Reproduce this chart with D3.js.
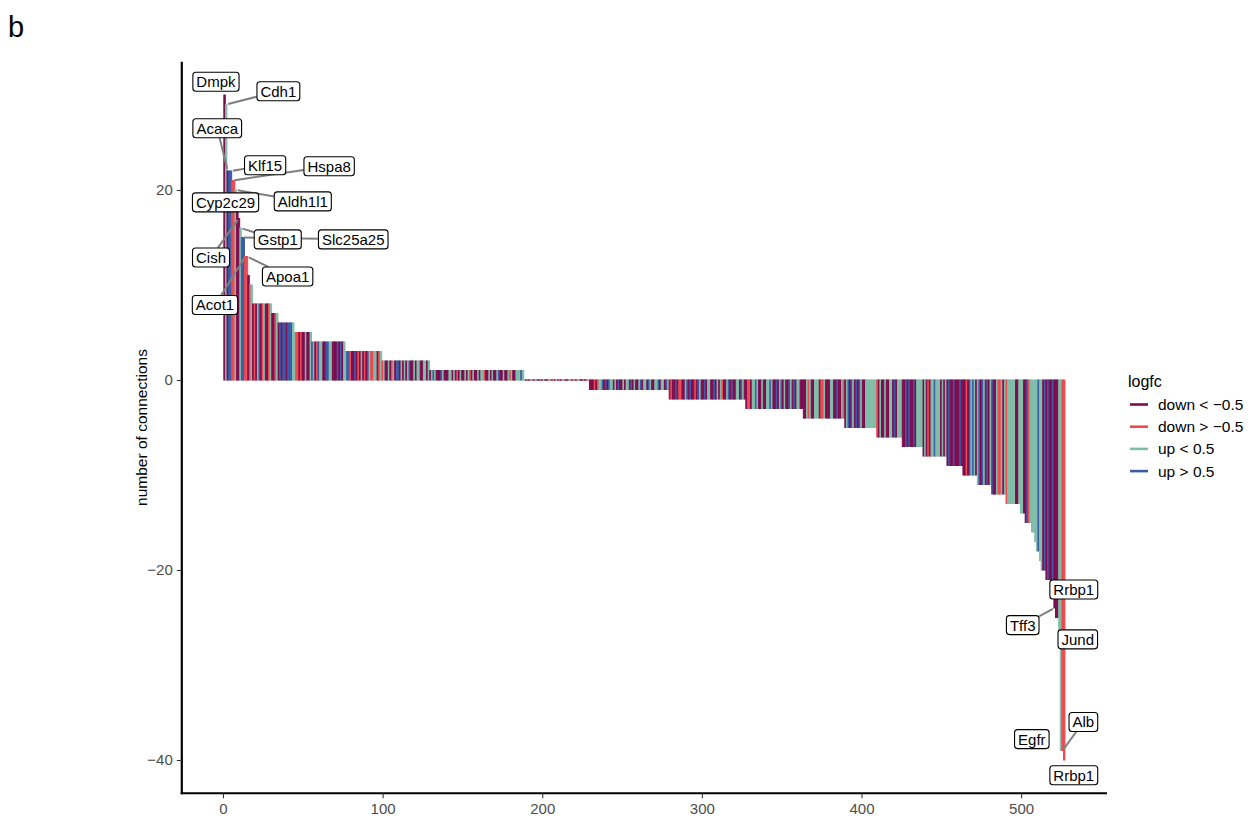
<!DOCTYPE html>
<html><head><meta charset="utf-8">
<script src="https://cdn.jsdelivr.net/npm/d3@7"></script>
<style>
body{margin:0;background:#fff}
svg{display:block}
text{font-family:"Liberation Sans",Arial,Helvetica,sans-serif}
</style>
</head><body>
<svg id="c" width="1256" height="816"></svg>
<script>
// ---- categories / legend ----
const categories = ["down < \u22120.5", "down > \u22120.5", "up < 0.5", "up > 0.5"];
const categoryCodes = ["P", "R", "T", "B"];
const categoryColors = ["#7F0C4F", "#EF4A4F", "#80BDA8", "#3B5BA8"];

// ---- bar data (sorted by number of connections) ----
// first individual bars
const headValues = [30, 29, 22, 22, 22, 21, 21, 20, 19, 17, 16, 15, 15, 13, 13, 11, 10, 10];
const headColors = "PTPBBRRTPPTBBRRPRT";
// runs of equal values: value and the colour code of each bar in the run
const levelValues = [8, 7, 6, 5, 4, 3, 2, 1, 0, -1, -2, -3, -4, -5, -6, -7, -8, -9, -10, -11, -12, -13, -14, -15, -16, -17, -18, -19, -20, -21];
const levelColors = [
  "PRPTBPRTPPRT",
  "PPRT",
  "PBPBBPBBBT",
  "TRRPRPPTPPT",
  "BTPRBTTPPBBTTPPPBPBPT",
  "TBBRPPBPRPTPRPBTRRTTPRT",
  "RTPPTPRTPBBPTPTPTBPPTPTTPPTTPT",
  "PTBTPPPBTPPPTTPTPRPTPPTPTRPTPPTPTTRPPTPTPPTBPPTPPTRTPPTTTBT",
  "TPRPTRPTBPRPTPPRTPRPTPRPTRPPTRPTPRTPPRPRT",
  "PPPRPRTTBPBPBTTPTPBPPTPTTPBPTPPTBPTTPBTPPTTBPTTPBT",
  "PRPPBPRRPPTBPBPPRPBTPPBPTTPPBPTPTRPPTBPBPPTTPBTP",
  "PRRPTTBTPPTPPTTBTPPBPTBPTPPBTPBPTTPP",
  "PPTRTPPTTTPRRTPPPTTPPBPPTR",
  "PTBPBTPBPBTPPTTTTTTT",
  "RPTPPTPPTTPBPTTT",
  "PPBPBPPBPTTTT",
  "PTPRPTTBTTTPTPT",
  "PBPPBPPPBP",
  "PPRPBTBTP",
  "TBPBTPBPT",
  "BPPTRRTPT",
  "RTTTTTPPT",
  "TTP",
  "PBRT",
  "TT",
  "T",
  "TB",
  "T",
  "TPB",
  "PBP"
];
// last individual bars
const tailValues = [-22, -23, -24, -25, -25, -27, -39, -39, -40];
const tailColors = "PBPPPTTRR";

// ---- labelled genes ----
const labelGenes = ["Dmpk", "Cdh1", "Acaca", "Klf15", "Hspa8", "Cyp2c29", "Aldh1l1", "Cish", "Gstp1", "Slc25a25", "Apoa1", "Acot1", "Rrbp1", "Tff3", "Jund", "Alb", "Egfr", "Rrbp1"];
const labelRanks = [1, 2, 3, 5, 6, 9, 8, 10, 11, 12, 15, 14, 519, 521, 524, 526, 525, 527];
// repelled label centres (data units) and whether a segment is drawn
const labelX = [-4.4, 34.7, -3.6, 26.4, 66.5, 1.6, 50, -7.5, 34.3, 81.6, 40.5, -5, 533, 501, 535.5, 539, 506.7, 533];
const labelY = [31.4, 30.4, 26.5, 22.6, 22.5, 18.7, 18.8, 12.9, 14.8, 14.8, 10.9, 7.9, -22.05, -25.8, -27.3, -36, -37.8, -41.6];
const labelSegment = [0, 1, 1, 1, 1, 0, 1, 1, 1, 1, 1, 1, 0, 1, 0, 1, 0, 0];

const xTicks = [0, 100, 200, 300, 400, 500];
const yTicks = [-40, -20, 0, 20];

// ---- build bars ----
const bars = [];
let rk = 1;
headValues.forEach((v, i) => bars.push({rank: rk++, value: v, code: headColors[i]}));
levelValues.forEach((v, i) => { for (const c of levelColors[i]) bars.push({rank: rk++, value: v, code: c}); });
tailValues.forEach((v, i) => bars.push({rank: rk++, value: v, code: tailColors[i]}));

const svg = d3.select("#c");
const x = d3.scaleLinear().domain([-25.8, 553.8]).range([181.8, 1107]);
const y = d3.scaleLinear().domain([-43.5, 33.5]).range([793.25, 61.75]);
const color = d3.scaleOrdinal().domain(categoryCodes).range(categoryColors);

// panel letter
svg.append("text").attr("x", 8).attr("y", 37).attr("font-size", 29).attr("fill", "#000").text("b");

// bars (zero-valued bars still show their outline as a thin band on the baseline)
svg.append("g").selectAll("rect").data(bars).join("rect")
  .attr("x", d => x(d.rank - 0.45))
  .attr("width", d => x(d.rank + 0.45) - x(d.rank - 0.45))
  .attr("y", d => d.value === 0 ? y(0) - 0.4 : y(Math.max(d.value, 0)))
  .attr("height", d => d.value === 0 ? 0.8 : Math.abs(y(d.value) - y(0)))
  .attr("fill", d => color(d.code))
  .attr("stroke", d => color(d.code))
  .attr("stroke-width", 1)
  .attr("opacity", d => d.value === 0 ? 0.75 : 1);

// axes
const yAxis = svg.append("g").attr("transform", `translate(${x.range()[0]},0)`)
  .call(d3.axisLeft(y).tickValues(yTicks).tickSize(5).tickSizeOuter(0).tickPadding(4)
        .tickFormat(d => d < 0 ? "\u2212" + Math.abs(d) : d));
const xAxis = svg.append("g").attr("transform", `translate(0,${y.range()[0]})`)
  .call(d3.axisBottom(x).tickValues(xTicks).tickSize(5).tickSizeOuter(0).tickPadding(5));
[yAxis, xAxis].forEach(a => {
  a.select(".domain").attr("stroke", "#000").attr("stroke-width", 2.2);
  a.selectAll(".tick line").attr("stroke", "#333").attr("stroke-width", 1.1);
  a.selectAll(".tick text").attr("fill", "#4D4D4D").attr("font-size", 15)
    .attr("font-family", '"Liberation Sans",Arial,sans-serif');
});
yAxis.select(".domain").attr("d", `M0,${y.range()[1]}V${y.range()[0] + 1.1}`);
xAxis.select(".domain").attr("d", `M${x.range()[0] - 1.1},0H${x.range()[1]}`);

// y title
svg.append("text").attr("transform", `translate(147,${(y.range()[0] + y.range()[1]) / 2}) rotate(-90)`)
  .attr("text-anchor", "middle").attr("font-size", 15.5).attr("fill", "#000").text("number of connections");

// labels
const byRank = new Map(bars.map(b => [b.rank, b]));
const segG = svg.append("g");
const labG = svg.append("g");
const labels = labelGenes.map((g, i) => {
  const b = byRank.get(labelRanks[i]);
  return {gene: g, px: x(b.rank), py: y(b.value), cx: x(labelX[i]), cy: y(labelY[i]), seg: labelSegment[i]};
});
labels.forEach(l => {
  const gg = labG.append("g");
  const rect = gg.append("rect");
  const t = gg.append("text").attr("x", l.cx).attr("y", l.cy).attr("dy", "0.36em")
    .attr("text-anchor", "middle").attr("font-size", 15).attr("fill", "#000").text(l.gene);
  const w = t.node().getComputedTextLength() + 7;
  const h = 19;
  rect.attr("x", l.cx - w / 2).attr("y", l.cy - h / 2).attr("width", w).attr("height", h)
    .attr("rx", 3).attr("fill", "#fff").attr("stroke", "#000").attr("stroke-width", 1.1);
  if (l.seg) {
    const dx = l.px - l.cx, dy = l.py - l.cy;
    const tx = dx !== 0 ? (w / 2) / Math.abs(dx) : Infinity;
    const ty = dy !== 0 ? (h / 2) / Math.abs(dy) : Infinity;
    const t0 = Math.min(tx, ty);
    const len = Math.hypot(dx, dy);
    const t1 = 1 - 2 / len;
    if (t1 > t0) {
      segG.append("line")
        .attr("x1", l.cx + dx * t0).attr("y1", l.cy + dy * t0)
        .attr("x2", l.cx + dx * t1).attr("y2", l.cy + dy * t1)
        .attr("stroke", "#7F7F7F").attr("stroke-width", 2);
    }
  }
});

// legend
const lg = svg.append("g");
lg.append("text").attr("x", 1128).attr("y", 387).attr("font-size", 16).attr("fill", "#000").text("logfc");
categories.forEach((c, i) => {
  const yy = 404.5 + i * 22.2;
  lg.append("line").attr("x1", 1130).attr("x2", 1148).attr("y1", yy).attr("y2", yy)
    .attr("stroke", categoryColors[i]).attr("stroke-width", 2.6);
  lg.append("text").attr("x", 1158).attr("y", yy).attr("dy", "0.36em").attr("font-size", 15.5)
    .attr("fill", "#000").text(c);
});
</script>
</body></html>
